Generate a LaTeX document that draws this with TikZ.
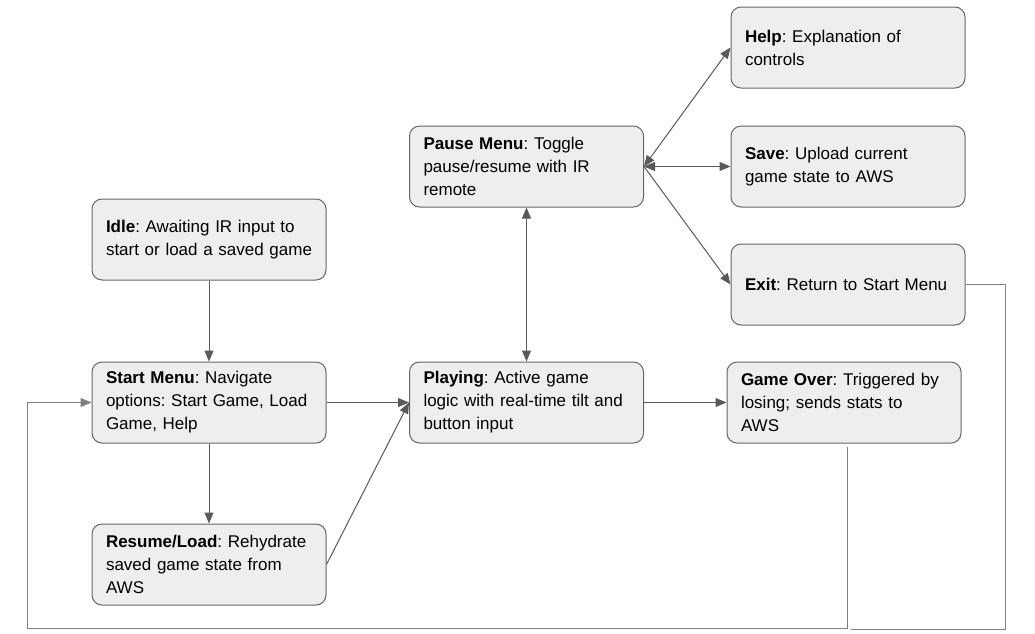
\documentclass[tikz,border=0pt]{standalone}
\usepackage{fontspec}
\setmainfont{Liberation Sans}
\usetikzlibrary{arrows.meta}
\frenchspacing

\definecolor{boxfill}{HTML}{EEEEEE}
\definecolor{boxline}{HTML}{666666}
\definecolor{arrowgray}{HTML}{5A5A5A}
\definecolor{loopgray}{HTML}{7F7F7F}

\tikzset{
    statebox/.style={draw=boxline, fill=boxfill, line width=1pt, rounded corners=10pt,
        minimum width=234pt, minimum height=81pt, text width=206pt, inner xsep=14pt,
        align=left, font=\fontsize{17}{23}\selectfont},
    arr/.style={draw=arrowgray, line width=1pt, -{Triangle[length=11pt,width=9pt]}},
    dblarr/.style={draw=arrowgray, line width=1pt, {Triangle[length=11pt,width=9pt]}-{Triangle[length=11pt,width=9pt]}},
    loopline/.style={draw=loopgray, line width=1pt}
}

\begin{document}
\begin{tikzpicture}[x=1pt, y=1pt, yscale=-1]
    \useasboundingbox (0,0) rectangle (1035,633);

    % Define the positions of the states
    \coordinate (helpPos) at (848, 47.5);
    \coordinate (pausePos) at (526.5, 166.5);
    \coordinate (savePos) at (848, 166.5);
    \coordinate (idlePos) at (209, 239.5);
    \coordinate (exitPos) at (848, 284.5);
    \coordinate (startPos) at (209, 402.5);
    \coordinate (playPos) at (526.5, 402.5);
    \coordinate (overPos) at (844, 402.5);
    \coordinate (resumePos) at (209, 564.5);

    % Corners of the return lines
    \coordinate (overDrop) at (847, 447);
    \coordinate (overLow) at (847, 628);
    \coordinate (leftLow) at (27, 628);
    \coordinate (leftUp) at (27, 402.5);
    \coordinate (exitTurn) at (1005, 284.5);
    \coordinate (exitLow) at (1005, 629);
    \coordinate (exitEnd) at (851, 629);

    % Draw the states
    \node[statebox] (help) at (helpPos) {\textbf{Help}: Explanation of\\controls};
    \node[statebox] (pause) at (pausePos) {\textbf{Pause Menu}: Toggle\\pause/resume with IR\\remote};
    \node[statebox] (save) at (savePos) {\textbf{Save}: Upload current\\game state to AWS};
    \node[statebox] (idle) at (idlePos) {\textbf{Idle}: Awaiting IR input to\\start or load a saved game};
    \node[statebox] (exit) at (exitPos) {\textbf{Exit}: Return to Start Menu};
    \node[statebox] (start) at (startPos) {\textbf{Start Menu}: Navigate\\options: Start Game, Load\\Game, Help};
    \node[statebox] (play) at (playPos) {\textbf{Playing}: Active game\\logic with real-time tilt and\\button input};
    \node[statebox] (over) at (overPos) {\textbf{Game Over}: Triggered by\\losing; sends stats to\\AWS};
    \node[statebox] (resume) at (resumePos) {\textbf{Resume/Load}: Rehydrate\\saved game state from\\AWS};

    % Draw the transitions
    \draw[arr] (idle) -- (start);
    \draw[arr] (start) -- (resume);
    \draw[arr] (start.east) -- (play.west);
    \draw[arr] (resume.east) -- (play.west);
    \draw[dblarr] (play) -- (pause);
    \draw[dblarr] (pause.east) -- (save.west);
    \draw[dblarr] (pause.east) -- (help.west);
    \draw[arr] (pause.east) -- (exit.west);
    \draw[arr] (play.east) -- (over.west);

    % Draw the return lines
    \draw[loopline] (overDrop) -- (overLow) -- (leftLow) -- (leftUp);
    \draw[arr, draw=loopgray] (leftUp) -- (start.west);
    \draw[loopline] (exit.east) -- (exitTurn) -- (exitLow) -- (exitEnd);

\end{tikzpicture}
\end{document}
